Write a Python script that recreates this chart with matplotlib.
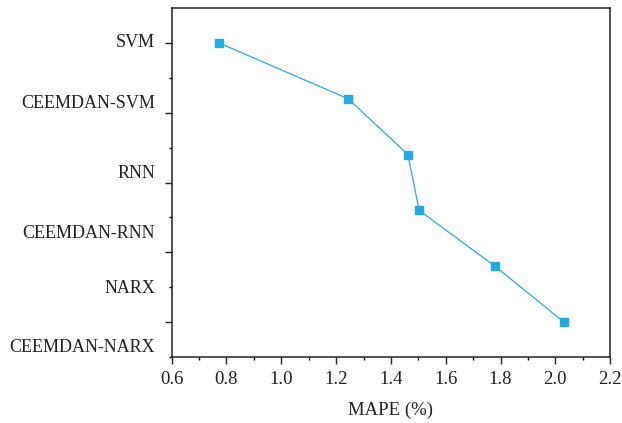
"""MAPE of each model, line with square markers"""

import matplotlib
matplotlib.use('Agg')
import matplotlib.pyplot as plt
from matplotlib.ticker import MultipleLocator
import matplotlib.transforms as mtransforms

#data
models = ['SVM', 'CEEMDAN-SVM', 'RNN', 'CEEMDAN-RNN', 'NARX', 'CEEMDAN-NARX']
mape = [0.773, 1.244, 1.462, 1.503, 1.780, 2.031]
model_index = list(range(len(models)))

#where the category labels sit on the y axis (in index units)
label_pos = [0.0, 1.09, 2.33, 3.42, 4.39, 5.46]

plt.rcParams['font.family'] = ['Liberation Serif', 'DejaVu Serif']

fig = plt.figure(figsize=(6.22, 4.23), dpi=100)
ax = fig.add_axes([0.276, 0.156, 0.705, 0.825])

ax.plot(mape, model_index, color='#29abe2', linewidth=0.9,
        marker='s', markersize=5.8, markerfacecolor='#22aae3',
        markeredgecolor='#22aae3')

#axes ranges and ticks
ax.set_xlim(0.6, 2.2)
ax.set_ylim(5.625, -0.625)
ax.xaxis.set_major_locator(MultipleLocator(0.2))
ax.xaxis.set_minor_locator(MultipleLocator(0.1))
ax.set_xticklabels([f'{v:.1f}' for v in ax.get_xticks()])
ax.set_yticks([0, 1.25, 2.5, 3.75, 5])
ax.set_yticks([0.625, 1.875, 3.125, 4.375, 5.625], minor=True)
ax.set_yticklabels([])

ax.tick_params(which='major', direction='out', length=5, width=1,
               labelsize=13.5, colors='#231f20')
ax.tick_params(which='minor', direction='out', length=2.5, width=1)
ax.tick_params(axis='x', pad=5)
for sp in ax.spines.values():
    sp.set_linewidth(1.1)
    sp.set_color('#231f20')

#category labels
trans = mtransforms.blended_transform_factory(ax.transAxes, ax.transData)
for name, yp in zip(models, label_pos):
    ax.text(-0.038, yp, name, transform=trans, ha='right', va='center',
            fontsize=13.0, color='#231f20')

ax.set_xlabel('MAPE (%)', fontsize=13.5, color='#231f20', labelpad=10)

plt.savefig('out.png', dpi=100)
